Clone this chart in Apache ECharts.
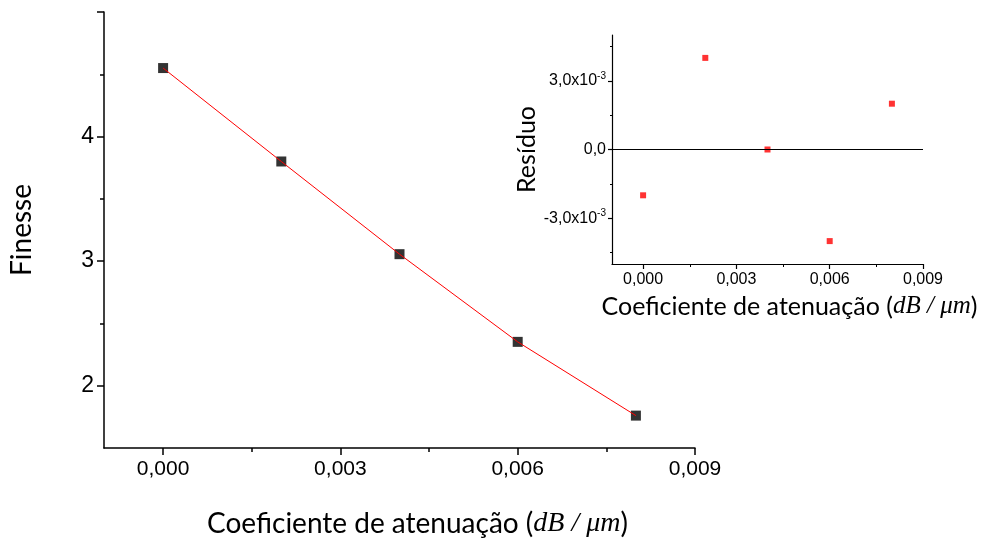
<!DOCTYPE html>
<html>
<head>
<meta charset="utf-8">
<script src="https://cdn.jsdelivr.net/npm/echarts@6/dist/echarts.min.js"></script>
<style>
  html, body { margin: 0; padding: 0; background: #fff; }
  #chart { width: 985px; height: 543px; }
</style>
</head>
<body>
<div id="chart"></div>
<script>
// Attenuation coefficient (dB/µm) and measured finesse
const coefs = [0, 0.002, 0.004, 0.006, 0.008];
const finesse = [4.55, 3.80, 3.056, 2.352, 1.76];
// Residuals of the fit at each coefficient
const residuals = [-0.002, 0.004, 0.0, -0.004, 0.002];

// Tick positions
const xMajor = [0, 0.003, 0.006, 0.009];
const xMinor = [0.0015, 0.0045, 0.0075];
const yMajor = [2, 3, 4, 5];
const yLabels = [2, 3, 4];
const yMinor = [2.5, 3.5, 4.5];
const rMajor = [-0.003, 0, 0.003];
const rMinor = [-0.0045, -0.0015, 0.0015, 0.0045];
const rLabels = { '-0.003': '-3,0x10{s|-3}', '0': '0,0', '0.003': '3,0x10{s|-3}' };

const TICK_FONT = 'Liberation Sans, Arial, sans-serif';
const TITLE_FONT = 'Lato, "Open Sans", sans-serif';
const MATH_FONT = '"Liberation Serif", "DejaVu Serif", serif';

function fmtX(v) {
  return v.toFixed(3).replace('.', ',');
}
function key(v) { return String(Math.round(v * 1e4) / 1e4); }

function titleRich(size) {
  return {
    t: { fontFamily: TITLE_FONT, fontSize: size, color: '#000' },
    m: { fontFamily: MATH_FONT, fontStyle: 'italic', fontSize: size, color: '#000' }
  };
}
const xTitle = '{t|Coeficiente de atenuação (}{m|dB / μm}{t|)}';

const line = (w) => ({ show: true, onZero: false, lineStyle: { color: '#000', width: w } });
const hidden = { show: false, onZero: false };

const chart = echarts.init(document.getElementById('chart'), null, { renderer: 'canvas' });

const option = {
  animation: false,
  backgroundColor: '#fff',
  grid: [
    { left: 104, top: 12, width: 591, height: 436 },
    { left: 612, top: 35, width: 311, height: 229 }
  ],
  xAxis: [
    {
      gridIndex: 0, type: 'value', min: -0.001, max: 0.009,
      splitLine: { show: false },
      axisLine: line(1.5),
      axisTick: { customValues: xMajor, length: 7, lineStyle: { color: '#000', width: 1.5 } },
      axisLabel: { customValues: xMajor, formatter: fmtX, fontFamily: TICK_FONT, fontSize: 21, color: '#000', margin: 11 },
      name: xTitle, nameLocation: 'middle', nameGap: 62,
      nameTextStyle: { rich: titleRich(28), padding: [0, 0, 0, 36] }
    },
    {
      gridIndex: 0, type: 'value', min: -0.001, max: 0.009, position: 'bottom',
      splitLine: { show: false }, axisLine: hidden,
      axisTick: { customValues: xMinor, length: 4, lineStyle: { color: '#000', width: 1.5 } },
      axisLabel: { show: false }
    },
    {
      gridIndex: 1, type: 'value', min: -0.001, max: 0.009, position: 'bottom',
      splitLine: { show: false },
      axisLine: line(1.2),
      axisTick: { customValues: xMajor, length: 5, lineStyle: { color: '#000', width: 1.2 } },
      axisLabel: { customValues: xMajor, formatter: fmtX, fontFamily: TICK_FONT, fontSize: 16, color: '#000', margin: 8 },
      name: xTitle, nameLocation: 'middle', nameGap: 30,
      nameTextStyle: { rich: titleRich(25), padding: [0, 0, 0, 44] }
    },
    {
      gridIndex: 1, type: 'value', min: -0.001, max: 0.009, position: 'bottom',
      splitLine: { show: false }, axisLine: hidden,
      axisTick: { customValues: xMinor, length: 3, lineStyle: { color: '#000', width: 1 } },
      axisLabel: { show: false }
    }
  ],
  yAxis: [
    {
      gridIndex: 0, type: 'value', min: 1.5, max: 5, position: 'left',
      splitLine: { show: false },
      axisLine: line(1.5),
      axisTick: { show: true, customValues: yMajor, length: 7, lineStyle: { color: '#000', width: 1.5 } },
      axisLabel: { customValues: yLabels, fontFamily: TICK_FONT, fontSize: 23, color: '#000', margin: 10 },
      name: 'Finesse', nameLocation: 'middle', nameGap: 68,
      nameTextStyle: { fontFamily: TITLE_FONT, fontSize: 28, color: '#000' }
    },
    {
      gridIndex: 0, type: 'value', min: 1.5, max: 5, position: 'left',
      splitLine: { show: false }, axisLine: hidden,
      axisTick: { show: true, customValues: yMinor, length: 4, lineStyle: { color: '#000', width: 1.5 } },
      axisLabel: { show: false }
    },
    {
      gridIndex: 1, type: 'value', min: -0.005, max: 0.005, position: 'left',
      splitLine: { show: false },
      axisLine: line(1.2),
      axisTick: { show: true, customValues: rMajor, length: 4, lineStyle: { color: '#000', width: 1.2 } },
      axisLabel: {
        customValues: rMajor, fontFamily: TICK_FONT, fontSize: 16, color: '#000', margin: 6,
        formatter: v => rLabels[key(v)] || '',
        rich: { s: { fontFamily: TICK_FONT, fontSize: 10, color: '#000', verticalAlign: 'top', padding: [0, 0, 10, 0] } }
      },
      name: 'Resíduo', nameLocation: 'middle', nameGap: 62,
      nameTextStyle: { fontFamily: TITLE_FONT, fontSize: 25, color: '#000' }
    },
    {
      gridIndex: 1, type: 'value', min: -0.005, max: 0.005, position: 'left',
      splitLine: { show: false }, axisLine: hidden,
      axisTick: { show: true, customValues: rMinor, length: 2, lineStyle: { color: '#000', width: 1 } },
      axisLabel: { show: false }
    }
  ],
  series: [
    {
      name: 'Ajuste', type: 'line', xAxisIndex: 0, yAxisIndex: 0,
      data: coefs.map((c, i) => [c, finesse[i]]),
      showSymbol: false, symbol: 'none',
      lineStyle: { color: '#ff0000', width: 1 }, z: 3
    },
    {
      name: 'Finesse', type: 'scatter', xAxisIndex: 0, yAxisIndex: 0,
      data: coefs.map((c, i) => [c, finesse[i]]),
      symbol: 'rect', symbolSize: 10,
      itemStyle: { color: '#000' }, z: 2
    },
    {
      name: 'Resíduo', type: 'scatter', xAxisIndex: 2, yAxisIndex: 2,
      data: coefs.map((c, i) => [c, residuals[i]]),
      symbol: 'rect', symbolSize: 6,
      itemStyle: { color: '#ff0000' },
      markLine: {
        silent: true, symbol: 'none', label: { show: false },
        lineStyle: { color: '#000', width: 1.2, type: 'solid' },
        data: [{ yAxis: 0 }]
      }
    }
  ]
};

chart.setOption(option);
</script>
</body>
</html>
